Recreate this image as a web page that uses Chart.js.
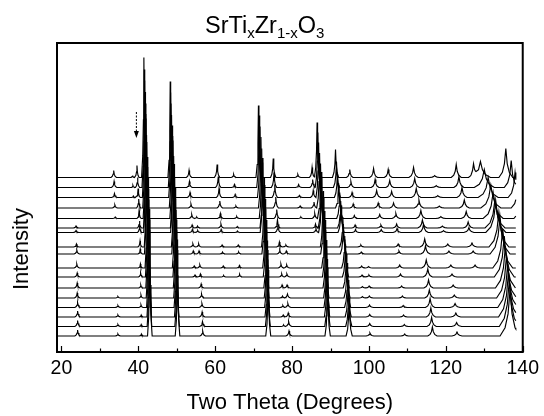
<!DOCTYPE html>
<html><head><meta charset="utf-8">
<script src="https://cdn.jsdelivr.net/npm/chart.js@4.4.1/dist/chart.umd.min.js"></script>
<style>
html,body{margin:0;padding:0;background:#fff;}
#wrap{position:relative;width:544px;height:416px;overflow:hidden;}
canvas{position:absolute;left:0;top:0;}
#title{position:absolute;left:205px;top:13px;font-family:"Liberation Sans",Arial,sans-serif;font-size:23.5px;line-height:24px;color:#000;white-space:nowrap;}
#title sub{font-size:15px;vertical-align:baseline;position:relative;top:5px;}
#ylab{position:absolute;left:21px;top:249px;transform:translate(-50%,-50%) rotate(-90deg);font-family:"Liberation Sans",Arial,sans-serif;font-size:22px;color:#000;white-space:nowrap;}
</style></head><body>
<div id="wrap"><canvas id="c" width="544" height="416"></canvas>
<div id="title">SrTi<sub>x</sub>Zr<sub>1-x</sub>O<sub>3</sub></div>
<div id="ylab">Intensity</div></div>
<script>
// ---- data ----
// 17 patterns, top to bottom; baseline levels in intensity units
const traceOffsets = [174.5,164.5,154.5,144,133.5,124,119.5,105,98,84,75,64,54,44.5,35,25.5,16];
const twoThetaStart = 18.85, twoThetaEnd = 138.2;
const xTickLabels = [20,40,60,80,100,120,140];
const xTickMarks = [20,30,40,50,60,70,80,90,100,110,120,130,140];
const arrowTwoTheta = 39.5;

const _ = null;
const p24Pos = [_,_,_,_,_,23.8,23.8,23.9,24.0,24.0,24.1,24.1,24.1,24.2,24.2,24.2,24.2];
const p24Height = [_,_,_,_,_,2,2,3,4,4,4,5,5,5,6,6,6];
const p34Pos = [33.6,33.7,33.8,33.9,34.0,_,_,_,_,_,_,_,34.7,34.7,34.7,34.7,34.7];
const p34Height = [7,6,4,3,1.5,_,_,_,_,_,_,_,1.5,2,2,2,2];
const p38Pos = [38.5,38.6,38.7,_,_,_,_,_,_,_,_,_,_,_,_,_,_];
const p38Height = [2,2,1.5,_,_,_,_,_,_,_,_,_,_,_,_,_,_];
const p40Pos = [39.65,39.8,39.95,40.1,40.2,40.3,40.35,40.45,40.5,40.55,40.6,40.65,40.7,40.7,40.75,40.75,40.8];
const p40Height = [12,10,9,9,8,7,7,6,5,4,4,3,3,2.5,2,2,2];
const p111Pos = [41.45,41.55,41.65,41.75,41.85,41.95,42.0,42.15,42.2,42.35,42.45,42.55,42.65,42.75,42.85,42.9,43.0];
const p111Height = [120,118,117,116,115,114,114,112,112,111,110,110,109,108,108,107,106];
const p200Pos = [48.3,48.4,48.5,48.65,48.8,48.95,49.0,49.2,49.3,49.45,49.6,49.7,49.8,49.9,50.0,50.1,50.2];
const p200Height = [96,95,94,93,93,92,92,91,90,90,89,89,88,88,87,87,86];
const p53Pos = [53.2,53.3,53.45,53.7,53.9,54.0,54.05,54.2,54.3,54.55,54.75,_,_,_,_,_,_];
const p53Height = [7,6,5,4,4,3,3,3,3,2,2,_,_,_,_,_,_];
const p56Pos = [_,_,_,_,55.2,55.4,55.45,55.7,55.8,56.0,56.15,56.35,56.45,56.55,56.6,56.7,56.75];
const p56Height = [_,_,_,_,1.5,2,2,3,3,3,3,4,4,4,5,5,5];
const p60Pos = [60.5,60.8,61.0,61.2,61.35,61.5,61.55,61.8,61.9,62.1,62.2,_,_,_,_,_,_];
const p60Height = [13,11,9,7,5,4,3,2,2,2,1.5,_,_,_,_,_,_];
const p64Pos = [64.8,65.0,65.2,65.4,65.6,65.75,65.8,66.0,66.1,66.3,66.35,_,_,_,_,_,_];
const p64Height = [3,3,3,2,2,1.5,1.5,2,2,2.5,2.5,_,_,_,_,_,_];
const p220Pos = [71.25,71.45,71.65,71.9,72.1,72.3,72.35,72.7,72.8,73.0,73.15,73.3,73.4,73.5,73.6,73.7,73.8];
const p220Height = [72,72,71,71,70,70,70,69,69,69,68,68,68,67,67,67,66];
const p75Pos = [75.1,75.3,75.5,75.75,76.0,76.2,76.3,76.7,76.8,77.1,77.3,77.4,77.5,77.6,77.7,77.8,_];
const p75Height = [19,15,13,11,9,8,7,5,4,4,3,3,2,2,2,1.5,_];
const p79Pos = [_,_,_,_,_,_,_,78.4,78.5,78.6,78.65,78.7,78.8,78.9,79.0,79.1,79.2];
const p79Height = [_,_,_,_,_,_,_,2,3,3,3,3,4,4,4,5,5];
const p81Pos = [81.5,81.7,81.9,82.1,82.3,_,_,_,_,_,_,_,_,_,_,_,_];
const p81Height = [3,3,2,2,1.5,_,_,_,_,_,_,_,_,_,_,_,_];
const p85Pos = [85.2,85.35,85.5,85.7,85.9,86.1,86.2,_,_,_,_,_,_,_,_,_,_];
const p85Height = [10,8,7,6,5,4,4,_,_,_,_,_,_,_,_,_,_];
const p311Pos = [86.5,86.7,86.9,87.15,87.4,87.6,87.7,88.05,88.15,88.4,88.6,88.75,88.9,89.0,89.1,89.2,89.25];
const p311Height = [55,55,55,55,55,56,56,56,57,57,57,58,58,58,58,59,59];
const p222Pos = [91.3,91.55,91.8,92.1,92.4,92.65,92.75,93.2,93.35,93.7,93.9,94.1,94.3,94.45,94.6,94.75,94.85];
const p222Height = [28,26,25,25,26,27,27,30,30,32,33,34,35,36,37,38,38];
const p95Pos = [95.0,95.3,95.6,95.9,96.2,96.4,96.5,_,_,_,_,_,_,_,_,_,_];
const p95Height = [8,6,5,4,3,3,3,_,_,_,_,_,_,_,_,_,_];
const p98Pos = [_,_,_,_,_,_,_,97.9,98.0,98.1,98.2,98.3,98.3,_,_,_,_];
const p98Height = [_,_,_,_,_,_,_,2,2,2,2,1.5,1.5,_,_,_,_];
const p101Pos = [101.2,101.6,102.0,102.4,102.8,103.1,103.2,_,_,99.9,100.0,100.05,100.1,100.15,100.2,100.2,100.25];
const p101Height = [9,8,7,5,4,3,3,_,_,1.5,2,2,2,2.5,2.5,3,3];
const p105Pos = [105.0,105.4,105.9,106.4,107.0,107.2,107.3,107.6,107.8,108.0,108.2,108.5,108.7,108.9,109.0,109.2,109.3];
const p105Height = [8,7,6,5,5,4,4,3,3,3,3,2,2,2,2,2,2];
const p400Pos = [111.6,111.9,112.3,113.0,113.5,113.9,114.2,114.5,114.7,114.9,115.3,115.5,115.7,115.9,116.1,116.3,116.5];
const p400Height = [10,9,9,8,8,8,8,8,8,8,8,8,8,9,9,9,9];
const p410Pos = [117.1,117.5,117.9,118.3,118.7,119.1,119.4,120.5,120.8,121.3,121.6,121.9,122.2,122.4,122.6,122.8,122.9];
const p410Height = [2,2,2,2,2,2,2,3,3,3,3,3,3,4,4,4,4];
const p123Pos = [122.7,123.4,124.2,124.8,125.3,125.8,126.0,126.8,127.1,127.6,_,_,_,_,_,_,_];
const p123Height = [13,11,10,8,7,6,5,4,3,3,_,_,_,_,_,_,_];
const p127Pos = [127.2,_,_,_,_,_,_,_,_,_,_,_,_,_,_,_,_];
const p127Height = [12,_,_,_,_,_,_,_,_,_,_,_,_,_,_,_,_];
const p331Pos = [129.0,130.0,131.0,131.7,132.3,132.8,133.0,133.8,134.1,134.8,135.2,135.5,135.8,136.1,136.3,136.5,136.7];
const p331Height = [16,18,20,23,26,29,31,35,37,39,41,42,43,44,45,46,46];
const p420Pos = [135.6,137.0,138.0,138.8,139.5,140.2,140.4,_,_,_,_,_,_,_,_,_,_];
const p420Height = [29,27,25,24,23,22,22,_,_,_,_,_,_,_,_,_,_];

// peak families with their half-widths (degrees)
const peakFamilies = [
  {pos:p24Pos,height:p24Height,halfWidth:0.7},
  {pos:p34Pos,height:p34Height,halfWidth:0.7},
  {pos:p38Pos,height:p38Height,halfWidth:0.5},
  {pos:p40Pos,height:p40Height,halfWidth:0.55},
  {pos:p111Pos,height:p111Height,halfWidth:0.6},
  {pos:p200Pos,height:p200Height,halfWidth:0.6},
  {pos:p53Pos,height:p53Height,halfWidth:0.7},
  {pos:p56Pos,height:p56Height,halfWidth:0.7},
  {pos:p60Pos,height:p60Height,halfWidth:0.7},
  {pos:p64Pos,height:p64Height,halfWidth:0.7},
  {pos:p220Pos,height:p220Height,halfWidth:0.65},
  {pos:p75Pos,height:p75Height,halfWidth:0.7},
  {pos:p79Pos,height:p79Height,halfWidth:0.8},
  {pos:p81Pos,height:p81Height,halfWidth:0.8},
  {pos:p85Pos,height:p85Height,halfWidth:0.7},
  {pos:p311Pos,height:p311Height,halfWidth:0.7},
  {pos:p222Pos,height:p222Height,halfWidth:0.8},
  {pos:p95Pos,height:p95Height,halfWidth:0.85},
  {pos:p98Pos,height:p98Height,halfWidth:0.9},
  {pos:p101Pos,height:p101Height,halfWidth:1.0},
  {pos:p105Pos,height:p105Height,halfWidth:1.0},
  {pos:p400Pos,height:p400Height,halfWidth:1.2},
  {pos:p410Pos,height:p410Height,halfWidth:1.3},
  {pos:p123Pos,height:p123Height,halfWidth:1.3},
  {pos:p127Pos,height:p127Height,halfWidth:1.3},
  {pos:p331Pos,height:p331Height,halfWidth:2.6},
  {pos:p420Pos,height:p420Height,halfWidth:1.8}
];

// ---- build each pattern as a polyline through its peak vertices ----
const SHAPE = [[-1,0],[-0.5,0.18],[-0.2,0.48],[0,1],[0.2,0.48],[0.5,0.18],[1,0]];
function peakValue(x, c, h, w){
  for (let k=0;k<SHAPE.length-1;k++){
    const x0=c+SHAPE[k][0]*w, x1=c+SHAPE[k+1][0]*w;
    if (x>=x0 && x<=x1){
      const t=(x-x0)/(x1-x0);
      return h*(SHAPE[k][1]+(SHAPE[k+1][1]-SHAPE[k][1])*t);
    }
  }
  return 0;
}
function tracePoints(i){
  const peaks=[];
  for (const f of peakFamilies){
    const c=f.pos[i], h=f.height[i];
    if (c==null || h==null) continue;
    peaks.push([c,h,f.halfWidth]);
  }
  const xs=new Set([twoThetaStart,twoThetaEnd]);
  for (const [c,h,w] of peaks) for (const s of SHAPE){
    const x=c+s[0]*w; if (x>twoThetaStart && x<twoThetaEnd) xs.add(x);
  }
  return [...xs].sort((a,b)=>a-b).map(x=>({x, y: traceOffsets[i]+peaks.reduce((s,[c,h,w])=>s+peakValue(x,c,h,w),0)}));
}
const datasets = traceOffsets.map((o,i)=>({
  data: tracePoints(i), borderColor:'#000', borderWidth:1.15, pointRadius:0, tension:0, fill:false
}));

const decor = {
  id:'decor',
  afterDatasetsDraw(chart){
    const {ctx, chartArea:a, scales:{x,y}} = chart;
    ctx.save();
    ctx.strokeStyle='#000';
    ctx.lineWidth=1.2;
    for (const v of xTickMarks){
      const px=Math.round(x.getPixelForValue(v))+0.5;
      const len = (v%20===0)?6:3.5;
      ctx.beginPath(); ctx.moveTo(px,a.bottom); ctx.lineTo(px,a.bottom-len); ctx.stroke();
    }
    const ax=x.getPixelForValue(arrowTwoTheta);
    const yTop=y.getPixelForValue(240), yTip=y.getPixelForValue(214);
    ctx.lineWidth=1;
    ctx.setLineDash([2,1.5]);
    ctx.beginPath(); ctx.moveTo(ax,yTop); ctx.lineTo(ax,yTip-5); ctx.stroke();
    ctx.setLineDash([]);
    ctx.fillStyle='#000';
    ctx.beginPath(); ctx.moveTo(ax-2.5,yTip-7); ctx.lineTo(ax+2.5,yTip-7); ctx.lineTo(ax,yTip); ctx.closePath(); ctx.fill();
    ctx.lineWidth=2;
    ctx.strokeRect(a.left,a.top,a.right-a.left,a.bottom-a.top);
    ctx.restore();
  }
};

new Chart(document.getElementById('c'), {
  type:'line',
  data:{datasets},
  plugins:[decor],
  options:{
    responsive:false, animation:false, devicePixelRatio:1,
    layout:{padding:{left:57,right:19,top:43,bottom:0}},
    plugins:{legend:{display:false}, tooltip:{enabled:false}, title:{display:false}},
    scales:{
      x:{type:'linear', min:18.85, max:140,
         grid:{display:false, drawTicks:false}, border:{display:false},
         afterBuildTicks:(s)=>{ s.ticks = xTickLabels.map(v=>({value:v})); },
         afterFit:(s)=>{ s.height = 64; },
         ticks:{color:'#000', font:{family:'Liberation Sans', size:19.5}, padding:5, maxRotation:0, autoSkip:false},
         title:{display:true, text:'Two Theta (Degrees)', color:'#000', font:{family:'Liberation Sans', size:22}, padding:{top:0,bottom:0}}
      },
      y:{type:'linear', min:0, max:309, display:false}
    }
  }
});
</script>
</body></html>
